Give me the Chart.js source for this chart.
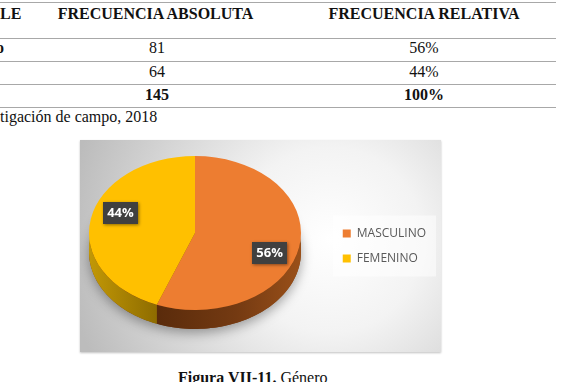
<!DOCTYPE html>
<html><head><meta charset="utf-8">
<script src="https://cdn.jsdelivr.net/npm/chart.js@4.4.1/dist/chart.umd.min.js"></script>
<style>
html,body{margin:0;padding:0;background:#fff;width:563px;height:382px;overflow:hidden;position:relative;}
.t{position:absolute;font-family:"Liberation Serif","Times New Roman",serif;font-size:16px;line-height:16px;color:#111;white-space:nowrap;}
.c{width:300px;text-align:center;}
.b{font-weight:bold;}
.hl{position:absolute;left:0;width:556px;height:1px;background:#a8a8a8;}
#wrap{position:absolute;left:80px;top:140px;width:361px;height:212px;box-shadow:0 1px 2px rgba(0,0,0,0.25);}
</style></head>
<body>
<div id="table"></div>
<div id="wrap"><canvas id="c" width="361" height="212" style="width:361px;height:212px;display:block"></canvas></div>
<div class="t" style="left:178px;top:370px;"><b>Figura VII-11.</b> Género</div>
<script>
// ---- data ----
const categories = ['MASCULINO', 'FEMENINO'];
const frequencies = [81, 64];
const relativeLabels = ['56%', '44%'];
const totalFrequency = '145';
const totalRelative = '100%';
const headers = ['LE', 'FRECUENCIA ABSOLUTA', 'FRECUENCIA RELATIVA'];
const firstColumnTail = ['o', '', ''];
const sourceText = 'tigación de campo, 2018';

// ---- table (html text) ----
const tbl = document.getElementById('table');
function addText(txt, cls, left, top) {
  const d = document.createElement('div');
  d.className = 't ' + cls; d.textContent = txt;
  d.style.left = left + 'px'; d.style.top = top + 'px';
  tbl.appendChild(d);
}
[2, 38, 61, 84, 107].forEach(y => { const l = document.createElement('div'); l.className = 'hl'; l.style.top = y + 'px'; tbl.appendChild(l); });
addText(headers[0], 'b', 0, 6);
addText(headers[1], 'b c', 155.5 - 150, 6);
addText(headers[2], 'b c', 424 - 150, 6);
const rowTops = [40, 64];
frequencies.forEach((f, i) => {
  if (firstColumnTail[i]) addText(firstColumnTail[i], 'b', -4, rowTops[i]);
  addText(String(f), 'c', 157 - 150, rowTops[i]);
  addText(relativeLabels[i], 'c', 424 - 150, rowTops[i]);
});
addText(totalFrequency, 'b c', 157 - 150, 87);
addText(totalRelative, 'b c', 424 - 150, 87);
addText(sourceText, '', 0, 109);

// ---- chart ----
const sliceColors = ['#ED7D31', '#FFC000'];
const sideStops = [[[0, '#5a2b0b'], [0.55, '#743a12'], [1, '#9a5019']], [[0, '#c29806'], [1, '#8e6c00']]];
const PIE = {cx: 115, cy: 93, k: 0.726, depth: 19, labelR: 0.75, labelShift: 0.17};

const pie3d = {
  id: 'pie3d',
  beforeDraw(chart) {
    const {ctx, width, height} = chart;
    ctx.save();
    const g = ctx.createRadialGradient(250, 100, 0, 250, 100, 265);
    g.addColorStop(0, '#ffffff'); g.addColorStop(0.35, '#f3f3f3'); g.addColorStop(1, '#bcbcbc');
    ctx.fillStyle = g; ctx.fillRect(0, 0, width, height);
    const hb = chart.legend && chart.legend.legendHitBoxes;
    if (hb && hb.length) {
      const l = Math.min(...hb.map(h => h.left)) - 10;
      const t = Math.min(...hb.map(h => h.top)) - 12;
      const r = Math.max(...hb.map(h => h.left + h.width)) + 10;
      const b = Math.max(...hb.map(h => h.top + h.height)) + 12;
      ctx.fillStyle = 'rgba(255,255,255,0.5)'; ctx.fillRect(l, t, r - l, b - t);
    }
    ctx.restore();
  },
  beforeDatasetsDraw(chart) {
    const meta = chart.getDatasetMeta(0);
    const ctx = chart.ctx;
    const a0 = meta.data[0];
    const r = a0.outerRadius;
    const {cx, cy, k, depth} = PIE;
    ctx.save();
    ctx.shadowColor = 'rgba(0,0,0,0.35)'; ctx.shadowBlur = 12; ctx.shadowOffsetY = 4;
    ctx.beginPath(); ctx.ellipse(cx, cy + depth, r, k * r, 0, 0, Math.PI * 2);
    ctx.fillStyle = '#7a3d12'; ctx.fill();
    ctx.shadowColor = 'transparent';
    meta.data.forEach((arc, i) => {
      const s = arc.startAngle, e = arc.endAngle;
      [-2 * Math.PI, 0, 2 * Math.PI].forEach(off => {
        const a = Math.max(s + off, 0), b = Math.min(e + off, Math.PI);
        if (b <= a) return;
        const N = 60;
        ctx.beginPath();
        for (let j = 0; j <= N; j++) { const t = a + (b - a) * j / N; const x = cx + r * Math.cos(t), y = cy + k * r * Math.sin(t); j ? ctx.lineTo(x, y) : ctx.moveTo(x, y); }
        for (let j = N; j >= 0; j--) { const t = a + (b - a) * j / N; ctx.lineTo(cx + r * Math.cos(t), cy + k * r * Math.sin(t) + depth); }
        ctx.closePath();
        const x0 = cx + r * Math.cos(b), x1 = cx + r * Math.cos(a);
        const g = ctx.createLinearGradient(Math.min(x0, x1), 0, Math.max(x0, x1) + 0.1, 0);
        sideStops[i].forEach(st => g.addColorStop(st[0], st[1]));
        ctx.fillStyle = g; ctx.fill();
      });
    });
    ctx.restore();
    ctx.save();
    ctx.translate(cx, cy); ctx.scale(1, k); ctx.translate(-a0.x, -a0.y);
  },
  afterDatasetsDraw(chart) {
    const ctx = chart.ctx;
    ctx.restore();
    const meta = chart.getDatasetMeta(0);
    const {cx, cy, k, labelR, labelShift} = PIE;
    const total = frequencies.reduce((a, b) => a + b, 0);
    meta.data.forEach((arc, i) => {
      const mid = (arc.startAngle + arc.endAngle) / 2 + labelShift;
      const pr = arc.outerRadius * labelR;
      const x = cx + pr * Math.cos(mid), y = cy + k * pr * Math.sin(mid);
      const txt = Math.round(frequencies[i] / total * 100) + '%';
      ctx.save();
      ctx.shadowColor = 'rgba(0,0,0,0.45)'; ctx.shadowBlur = 3; ctx.shadowOffsetX = 1; ctx.shadowOffsetY = 1;
      ctx.fillStyle = '#404040';
      ctx.fillRect(Math.round(x - 17.5), Math.round(y - 11), 35, 22);
      ctx.shadowColor = 'transparent';
      ctx.fillStyle = '#ffffff';
      ctx.font = "bold 13px 'Open Sans'";
      ctx.textAlign = 'center'; ctx.textBaseline = 'middle';
      ctx.fillText(txt, x, y + 0.5);
      ctx.restore();
    });
  }
};

new Chart(document.getElementById('c'), {
  type: 'pie',
  data: {labels: categories, datasets: [{data: frequencies, backgroundColor: sliceColors, borderWidth: 0, radius: 106, clip: false, hoverOffset: 0}]},
  options: {
    responsive: false, animation: false, devicePixelRatio: 1, events: [],
    layout: {padding: {right: 5}},
    plugins: {
      legend: {position: 'right', labels: {boxWidth: 8, boxHeight: 8, padding: 13, color: '#595959', font: {family: "'Open Sans'", size: 12}}},
      tooltip: {enabled: false}
    }
  },
  plugins: [pie3d]
});
</script>
</body></html>
